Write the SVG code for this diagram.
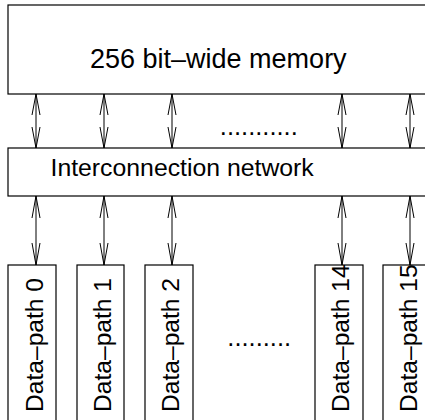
<svg xmlns="http://www.w3.org/2000/svg" width="425" height="420" viewBox="0 0 425 420">
<defs>
<style>
.box{fill:#fff;stroke:#000;stroke-width:1.2}
.t{font-family:"Liberation Sans",Arial,Helvetica,sans-serif;fill:#000}
.dp{font-size:24.6px}
.ar{fill:none;stroke:#000;stroke-width:1}
.dots{font-size:25.5px}
</style>
</defs>
<rect width="425" height="420" fill="#fff"/>
<g id="memory">
<rect class="box" x="8" y="5" width="440" height="89"/>
<text class="t" x="90" y="67.5" font-size="27">256 bit–wide memory</text>
</g>
<g id="network">
<rect class="box" x="8" y="148" width="440" height="48"/>
<text class="t" x="50.5" y="175.5" font-size="24.8">Interconnection network</text>
</g>
<g id="dp0">
<rect class="box" x="8" y="265" width="48" height="170"/>
<text class="t dp" transform="translate(42.7,412) rotate(-90)">Data–path 0</text>
</g>
<g id="dp1">
<rect class="box" x="77" y="265" width="47" height="170"/>
<text class="t dp" transform="translate(110.7,412) rotate(-90)">Data–path 1</text>
</g>
<g id="dp2">
<rect class="box" x="145" y="265" width="48" height="170"/>
<text class="t dp" transform="translate(178.7,412) rotate(-90)">Data–path 2</text>
</g>
<g id="dp14">
<rect class="box" x="315" y="265" width="48" height="170"/>
<text class="t dp" transform="translate(349,412) rotate(-90)">Data–path 14</text>
</g>
<g id="dp15">
<rect class="box" x="383" y="265" width="48" height="170"/>
<text class="t dp" transform="translate(416.5,412) rotate(-90)">Data–path 15</text>
</g>
<g id="dots">
<text class="t dots" x="219.8" y="135">...........</text>
<text class="t dots" x="227.3" y="346">.........</text>
</g>
<g id="connectors">
<path class="ar" d="M36 94V148M32 115L36 94L40 115M32 127L36 148L40 127"/>
<path class="ar" d="M104 94V148M100 115L104 94L108 115M100 127L104 148L108 127"/>
<path class="ar" d="M172 94V148M168 115L172 94L176 115M168 127L172 148L176 127"/>
<path class="ar" d="M342 94V148M338 115L342 94L346 115M338 127L342 148L346 127"/>
<path class="ar" d="M410 94V148M406 115L410 94L414 115M406 127L410 148L414 127"/>
<path class="ar" d="M36 196V265M32 218L36 196L40 218M32 243L36 265L40 243"/>
<path class="ar" d="M104 196V265M100 218L104 196L108 218M100 243L104 265L108 243" stroke="#666"/>
<path class="ar" d="M172 196V265M168 218L172 196L176 218M168 243L172 265L176 243"/>
<path class="ar" d="M342 196V265M338 218L342 196L346 218M338 243L342 265L346 243"/>
<path class="ar" d="M410 196V265M406 218L410 196L414 218M406 243L410 265L414 243"/>
</g>
</svg>
